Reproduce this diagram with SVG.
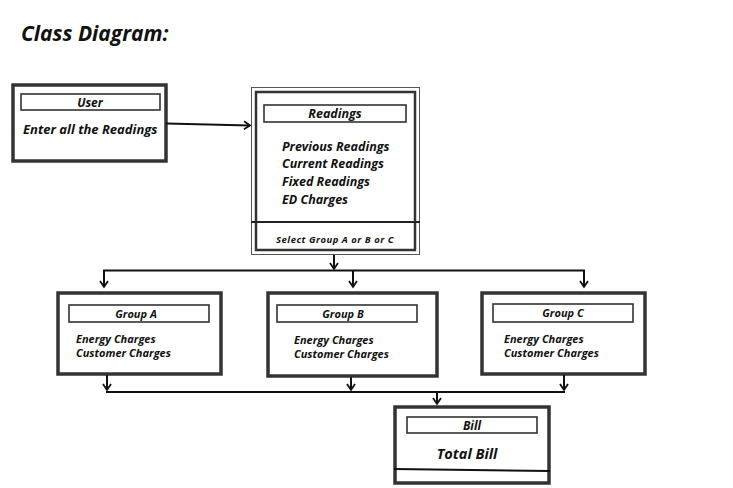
<svg xmlns="http://www.w3.org/2000/svg" width="733" height="488" viewBox="0 0 733 488">
<defs>
<marker id="ah" markerWidth="10" markerHeight="10" refX="8" refY="5" orient="auto" markerUnits="userSpaceOnUse">
<path d="M2,1 L8,5 L2,9" fill="none" stroke="#111" stroke-width="1.8"/>
</marker>
</defs>
<style>
text{font-family:"Open Sans","Noto Sans","Liberation Sans",sans-serif;font-style:italic;font-weight:bold;fill:#111}
.box{fill:#fff;stroke:#333;stroke-width:3.5}
.tbox{fill:#fff;stroke:#333;stroke-width:1.6}
.ln{fill:none;stroke:#111;stroke-width:2}
.c{text-anchor:middle}
.g{font-size:11px}
</style>
<rect width="733" height="488" fill="#fff"/>
<text x="21" y="41" font-size="21">Class Diagram:</text>

<g id="user">
<rect class="box" x="13" y="85" width="153" height="76"/>
<rect class="tbox" x="21" y="94" width="139" height="16"/>
<text class="c" x="90" y="107" font-size="12">User</text>
<text x="23" y="134" font-size="13">Enter all the Readings</text>
</g>

<g id="readings">
<rect x="251.5" y="87.5" width="168" height="167" fill="#fff" stroke="#555" stroke-width="1"/>
<rect x="256" y="92" width="159" height="158" fill="none" stroke="#333" stroke-width="2.5"/>
<line x1="251" y1="222" x2="420" y2="222" stroke="#222" stroke-width="2"/>
<rect class="tbox" x="264" y="105" width="142" height="17"/>
<text class="c" x="335" y="118" font-size="12.5">Readings</text>
<text x="282" y="151" font-size="12.5">Previous Readings</text>
<text x="282" y="168" font-size="12.5">Current Readings</text>
<text x="282" y="186" font-size="12.5">Fixed Readings</text>
<text x="282" y="204" font-size="12.5">ED Charges</text>
<text class="c" x="335" y="243" font-size="9.5" letter-spacing="0.5">Select Group A or B or C</text>
</g>

<g id="groupA">
<rect class="box" x="58" y="293" width="163" height="81"/>
<rect class="tbox" x="69" y="305" width="140" height="17"/>
<text class="c g" x="136" y="318">Group A</text>
<text class="g" x="76" y="343">Energy Charges</text>
<text class="g" x="76" y="357">Customer Charges</text>
</g>

<g id="groupB">
<rect class="box" x="268" y="293" width="169" height="83"/>
<rect class="tbox" x="277" y="305" width="140" height="17"/>
<text class="c g" x="343" y="318">Group B</text>
<text class="g" x="294" y="344">Energy Charges</text>
<text class="g" x="294" y="358">Customer Charges</text>
</g>

<g id="groupC">
<rect class="box" x="482" y="293" width="163" height="81"/>
<rect class="tbox" x="493" y="304" width="140" height="18"/>
<text class="c g" x="563" y="317">Group C</text>
<text class="g" x="504" y="343">Energy Charges</text>
<text class="g" x="504" y="357">Customer Charges</text>
</g>

<g id="bill">
<rect class="box" x="395" y="407" width="154" height="76"/>
<rect class="tbox" x="407" y="417" width="130" height="16"/>
<text class="c" x="472" y="430" font-size="12">Bill</text>
<text class="c" x="467" y="459" font-size="14.5">Total Bill</text>
<line x1="394" y1="469" x2="550" y2="471" stroke="#111" stroke-width="2"/>
</g>

<g id="connectors">
<line class="ln" x1="166" y1="123.5" x2="250" y2="125.5" marker-end="url(#ah)"/>
<line class="ln" x1="334" y1="255" x2="334" y2="269" marker-end="url(#ah)"/>
<polyline class="ln" points="104,287 104,270.5 584,270.5 584,287" marker-end="url(#ah)"/>
<line class="ln" x1="104" y1="271" x2="104" y2="287" marker-end="url(#ah)"/>
<line class="ln" x1="353" y1="271" x2="353" y2="287" marker-end="url(#ah)"/>
<line class="ln" x1="107" y1="375" x2="107" y2="390" marker-end="url(#ah)"/>
<line class="ln" x1="351" y1="377" x2="351" y2="390" marker-end="url(#ah)"/>
<line class="ln" x1="564" y1="375" x2="564" y2="390" marker-end="url(#ah)"/>
<line class="ln" x1="106" y1="392" x2="565" y2="392"/>
<line class="ln" x1="437" y1="392" x2="437" y2="404" marker-end="url(#ah)"/>
</g>
</svg>
